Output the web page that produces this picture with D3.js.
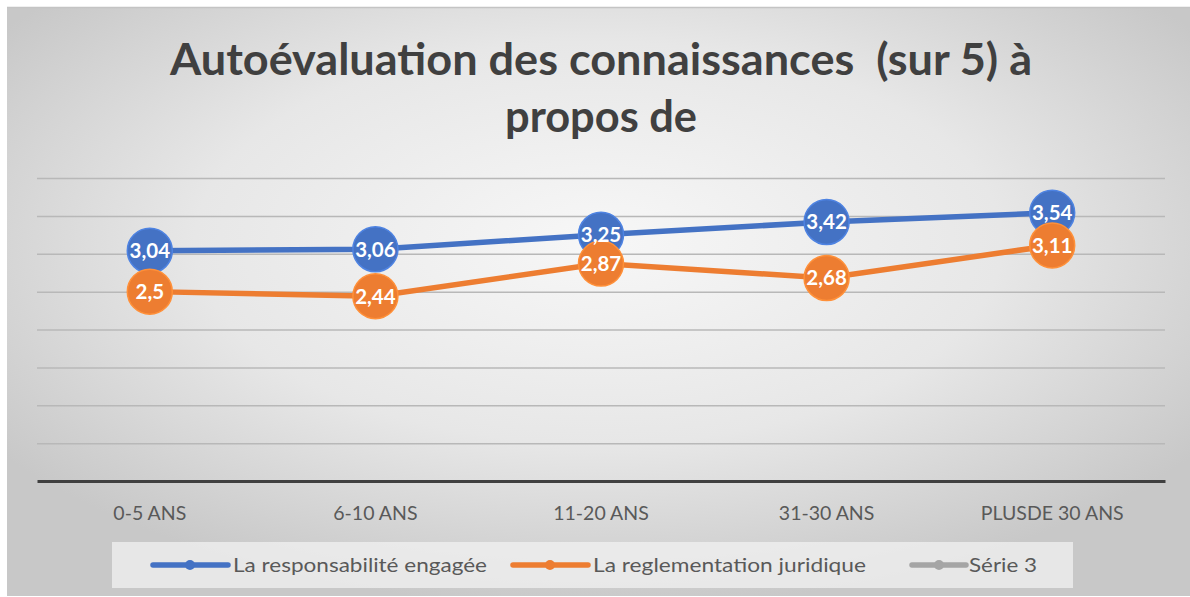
<!DOCTYPE html>
<html><head><meta charset="utf-8">
<script src="https://cdn.jsdelivr.net/npm/d3@7"></script>
<style>html,body{margin:0;padding:0;background:#fff;}svg{display:block;}</style>
</head><body>
<svg id="c" width="1190" height="597"></svg>
<script>
const categories = ["0-5 ANS", "6-10 ANS", "11-20 ANS", "31-30 ANS", "PLUSDE 30 ANS"];
const seriesNames = ["La responsabilité engagée", "La reglementation juridique", "Série 3"];
const responsabilite = [3.04, 3.06, 3.25, 3.42, 3.54];
const reglementation = [2.5, 2.44, 2.87, 2.68, 3.11];
const serie3 = [];
const yTicks = [0, 0.5, 1, 1.5, 2, 2.5, 3, 3.5, 4];
const titleLines = ["Autoévaluation des connaissances  (sur 5) à", "propos de"];

const colors = ["#4472C4", "#ED7D31", "#A5A5A5"];
const seriesData = [responsabilite, reglementation, serie3];

const svg = d3.select("#c");
const defs = svg.append("defs");
const grad = defs.append("radialGradient").attr("id","bg")
  .attr("cx","50%").attr("cy","40%").attr("r","62%");
grad.append("stop").attr("offset","0%").attr("stop-color","#f7f7f7");
grad.append("stop").attr("offset","55%").attr("stop-color","#e7e7e7");
grad.append("stop").attr("offset","100%").attr("stop-color","#c8c8c8");

svg.append("rect").attr("x",7).attr("y",7).attr("width",1183).attr("height",589)
  .attr("fill","url(#bg)");
svg.append("line").attr("x1",7).attr("x2",1190).attr("y1",7.5).attr("y2",7.5)
  .attr("stroke","#c4c4c4").attr("stroke-width",1.5);

const x0 = 37, x1 = 1165;
const x = d3.scaleBand().domain(categories).range([x0, x1]);
const y = d3.scaleLinear().domain([0, 4]).range([481, 178]);

// gridlines
const grid = svg.append("g").attr("transform", `translate(${x0},0)`)
  .call(d3.axisLeft(y).tickValues(yTicks.filter(v => v > 0)).tickSize(-(x1 - x0)).tickFormat(""));
grid.select(".domain").remove();
grid.selectAll(".tick line").attr("stroke","#b8b8b8").attr("stroke-width",1.5);

// x axis
const xa = svg.append("g").attr("transform", `translate(0,${y(0)})`)
  .call(d3.axisBottom(x).tickSize(0).tickPadding(0));
xa.select(".domain").attr("stroke","#404040").attr("stroke-width",3);
xa.selectAll(".tick text").attr("font-family","Lato").attr("font-size",19.5)
  .attr("fill","#595959").attr("dy",0).attr("y",39);

// title
const title = svg.append("g");
const titleWidths = [862, 192];
titleLines.forEach((t, i) => {
  title.append("text").attr("x", 601).attr("y", 75 + i * 57)
    .attr("text-anchor","middle").attr("font-family","Lato").attr("font-weight","bold")
    .attr("font-size",43).attr("fill","#404040").style("white-space","pre")
    .attr("textLength", titleWidths[i]).attr("lengthAdjust","spacingAndGlyphs")
    .text(t);
});

// series
const line = d3.line().x((d, i) => x(categories[i]) + x.bandwidth() / 2).y(d => y(d));
seriesData.forEach((vals, s) => {
  if (!vals.length) return;
  const g = svg.append("g");
  g.append("path").datum(vals).attr("d", line).attr("fill","none")
    .attr("stroke", colors[s]).attr("stroke-width",5.5).attr("stroke-linecap","round");
  g.selectAll("circle").data(vals).join("circle")
    .attr("cx", (d, i) => x(categories[i]) + x.bandwidth() / 2)
    .attr("cy", d => y(d)).attr("r", 22.5)
    .attr("fill", colors[s]).attr("stroke", d3.color(colors[s]).brighter(0.4)).attr("stroke-width",1.5);
});
seriesData.forEach((vals, s) => {
  if (!vals.length) return;
  svg.append("g").selectAll("text").data(vals).join("text")
    .attr("x", (d, i) => x(categories[i]) + x.bandwidth() / 2)
    .attr("y", d => y(d) + 7.5)
    .attr("text-anchor","middle").attr("font-family","Lato").attr("font-weight","bold")
    .attr("font-size",20.5).attr("fill","#fff")
    .text(d => d3.format(".2~f")(d).replace(".", ","));
});

// legend
svg.append("rect").attr("x",112).attr("y",542).attr("width",961).attr("height",46)
  .attr("fill","#f2f2f2").attr("opacity",0.75);
const legX = [153, 513, 912];
const legTextW = [254, 273, 68];
seriesNames.forEach((n, i) => {
  const g = svg.append("g").attr("transform", `translate(${legX[i]},565)`);
  g.append("line").attr("x1",0).attr("x2",i === 2 ? 54 : 75).attr("stroke",colors[i])
    .attr("stroke-width",5.5).attr("stroke-linecap","round");
  g.append("circle").attr("cx", i === 2 ? 27 : 37).attr("r",5).attr("fill",colors[i]);
  g.append("text").attr("x", i === 2 ? 57 : 80).attr("y",7).attr("font-family","Lato")
    .attr("font-size",19).attr("fill","#595959")
    .attr("textLength", legTextW[i]).attr("lengthAdjust","spacingAndGlyphs").text(n);
});
</script>
</body></html>
